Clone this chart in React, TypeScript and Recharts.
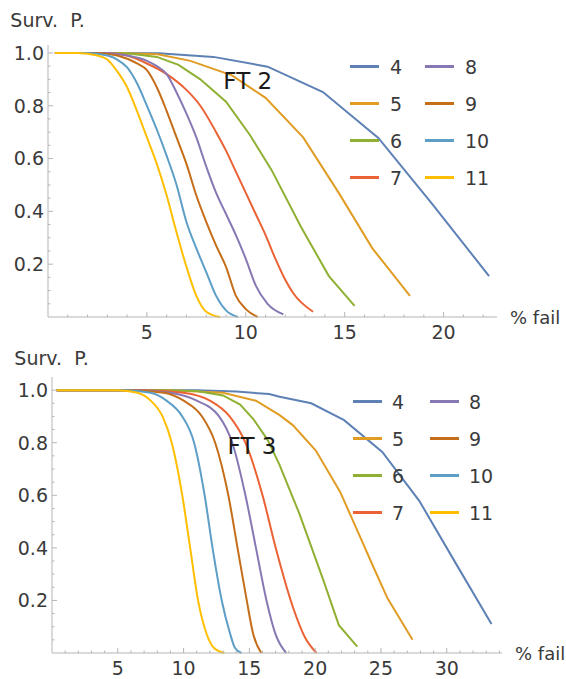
import { Legend, Line, LineChart, ReferenceDot, XAxis, YAxis } from "recharts";

type Pt = [number, number];

// series: number of nodes
const seriesNames = ["4", "5", "6", "7", "8", "9", "10", "11"];
const seriesColors = ["#5e81b5", "#e19c24", "#8fb032", "#eb6235", "#8778b3", "#c56e1a", "#5d9ec7", "#ffbf00"];
const seriesCurve = ["linear", "linear", "linear", "monotone", "monotone", "monotone", "monotone", "monotone"];

// FT 2: [% fail, survival probability]
const ft2n4: Pt[] = [[0.35, 1], [2.8, 1], [5.6, 0.999], [8.36, 0.985], [11.1, 0.948], [13.9, 0.852], [16.7, 0.678], [19.4, 0.43], [22.3, 0.155]];
const ft2n5: Pt[] = [[0.35, 1], [3.7, 1], [5.55, 0.995], [7.2, 0.97], [9.3, 0.915], [11.0, 0.83], [12.9, 0.68], [14.7, 0.47], [16.4, 0.26], [18.3, 0.08]];
const ft2n6: Pt[] = [[0.35, 1], [3, 1], [4.2, 0.997], [5.5, 0.985], [6.6, 0.955], [7.7, 0.9], [9.0, 0.815], [10.2, 0.69], [11.3, 0.557], [12.8, 0.34], [14.2, 0.155], [15.5, 0.042]];
const ft2n7: Pt[] = [[0.35, 1], [3, 1], [4, 0.99], [5, 0.96], [6, 0.92], [7, 0.86], [7.7, 0.8], [8.5, 0.7], [9, 0.63], [9.5, 0.55], [10, 0.47], [10.5, 0.39], [11, 0.31], [11.5, 0.22], [12, 0.14], [12.4, 0.09], [13.4, 0.02]];
const ft2n8: Pt[] = [[0.35, 1], [3, 1], [4, 0.99], [5, 0.97], [5.5, 0.95], [6, 0.92], [6.5, 0.85], [7, 0.77], [7.5, 0.68], [8, 0.57], [8.5, 0.47], [9, 0.39], [9.5, 0.31], [10, 0.22], [10.5, 0.12], [11.1, 0.05], [11.9, 0.01]];
const ft2n9: Pt[] = [[0.35, 1], [2.5, 1], [3.5, 0.99], [4.5, 0.96], [5, 0.935], [5.5, 0.87], [6, 0.78], [6.5, 0.68], [7, 0.58], [7.5, 0.46], [8, 0.36], [8.5, 0.27], [9, 0.19], [9.5, 0.08], [10, 0.03], [10.6, 0]];
const ft2n10: Pt[] = [[0.35, 1], [2, 1], [3, 0.99], [3.5, 0.975], [4, 0.945], [4.5, 0.885], [5, 0.8], [5.5, 0.71], [6, 0.61], [6.5, 0.5], [7, 0.36], [7.5, 0.26], [8, 0.17], [8.5, 0.08], [9, 0.025], [9.6, 0]];
const ft2n11: Pt[] = [[0.35, 1], [1.5, 1], [2.5, 0.99], [3, 0.975], [3.5, 0.93], [4, 0.87], [4.5, 0.78], [5, 0.68], [5.5, 0.58], [6, 0.46], [6.5, 0.32], [7, 0.19], [7.5, 0.08], [8, 0.02], [8.7, 0]];

// FT 3
const ft3n4: Pt[] = [[0.35, 1], [11, 1], [14, 0.995], [16.5, 0.985], [17.3, 0.975], [19.7, 0.95], [22.2, 0.886], [25.1, 0.765], [27.9, 0.58], [30.7, 0.34], [33.4, 0.11]];
const ft3n5: Pt[] = [[0.35, 1], [9, 1], [13, 0.99], [15.5, 0.96], [17.3, 0.905], [18.3, 0.867], [20.05, 0.77], [21.9, 0.613], [23.3, 0.455], [24.4, 0.33], [25.5, 0.208], [27.4, 0.05]];
const ft3n6: Pt[] = [[0.35, 1], [8, 1], [11, 0.997], [13, 0.98], [14.3, 0.945], [15.3, 0.89], [16.4, 0.81], [17.3, 0.715], [18.8, 0.53], [20.6, 0.28], [21.8, 0.106], [23.2, 0.024]];
const ft3n7: Pt[] = [[0.35, 1], [7, 1], [10, 0.99], [12, 0.96], [13.5, 0.9], [14.7, 0.8], [16, 0.6], [17, 0.4], [18.3, 0.176], [19.2, 0.062], [20.1, 0]];
const ft3n8: Pt[] = [[0.35, 1], [6.5, 1], [9, 0.99], [11, 0.96], [12.7, 0.9], [13.7, 0.8], [14.7, 0.6], [15.5, 0.4], [16.3, 0.2], [17, 0.07], [17.8, 0]];
const ft3n9: Pt[] = [[0.35, 1], [6, 1], [8.5, 0.99], [10, 0.96], [11.4, 0.9], [12.4, 0.8], [13.4, 0.6], [14.1, 0.4], [14.8, 0.2], [15.3, 0.07], [15.9, 0]];
const ft3n10: Pt[] = [[0.35, 1], [5.5, 1], [7.5, 0.99], [8.7, 0.96], [9.9, 0.9], [10.8, 0.8], [11.6, 0.6], [12.2, 0.4], [12.9, 0.2], [13.5, 0.08], [13.9, 0.02], [14.4, 0]];
const ft3n11: Pt[] = [[0.35, 1], [5, 1], [6.5, 0.99], [7.5, 0.96], [8.4, 0.9], [9.1, 0.8], [9.9, 0.6], [10.5, 0.4], [11.1, 0.2], [11.7, 0.08], [12.3, 0.02], [13.1, 0]];

const ft2Series = [ft2n4, ft2n5, ft2n6, ft2n7, ft2n8, ft2n9, ft2n10, ft2n11];
const ft3Series = [ft3n4, ft3n5, ft3n6, ft3n7, ft3n8, ft3n9, ft3n10, ft3n11];

// tick labels
const ft2XLabels = [5, 10, 15, 20];
const ft3XLabels = [5, 10, 15, 20, 25, 30];
const yLabels = [0.2, 0.4, 0.6, 0.8, 1.0];

const ft2XTicks = Array.from({ length: 22 }, (_, i) => i + 1);
const ft3XTicks = Array.from({ length: 34 }, (_, i) => i + 1);
const yTicks = Array.from({ length: 20 }, (_, i) => Math.round((i + 1) * 5) / 100);

const AXIS = "#b5b5b5";
const TEXT = "#3a3a3a";
const FONT = "DejaVu Sans";

const toRows = (pts: Pt[]) => pts.map(([x, y]) => ({ x, y }));

function XTick(props: any) {
  const { x, y, payload, labels } = props;
  const major = labels.includes(payload.value);
  return (
    <g>
      <line x1={x} x2={x} y1={y} y2={y - (major ? 5 : 2.5)} stroke={AXIS} />
      {major && (
        <text x={x} y={y + 22} textAnchor="middle" fontSize={19} fill={TEXT}>
          {payload.value}
        </text>
      )}
    </g>
  );
}

function YTick(props: any) {
  const { x, y, payload } = props;
  const major = yLabels.some((v) => Math.abs(v - payload.value) < 1e-6);
  return (
    <g>
      <line x1={x} x2={x + (major ? 5 : 2.5)} y1={y} y2={y} stroke={AXIS} />
      {major && (
        <text x={x - 4} y={y} dy="0.36em" textAnchor="end" fontSize={19} fill={TEXT}>
          {payload.value.toFixed(1)}
        </text>
      )}
    </g>
  );
}

function LegendGrid(props: any) {
  const { payload, colWidth, gap } = props;
  const items = [...(payload || [])].sort((a: any, b: any) => seriesNames.indexOf(a.value) - seriesNames.indexOf(b.value));
  return (
    <div
      style={{
        display: "grid",
        gridTemplateRows: "repeat(4, 37px)",
        gridAutoFlow: "column",
        gridAutoColumns: `${colWidth}px`,
        fontFamily: FONT,
        fontSize: 19,
        color: TEXT,
      }}
    >
      {items.map((p: any) => (
        <div key={p.value} style={{ display: "flex", alignItems: "center" }}>
          <span style={{ width: 29, height: 2.5, background: p.color, marginRight: gap }} />
          <span>{p.value}</span>
        </div>
      ))}
    </div>
  );
}

function SurvChart(props: any) {
  const { series, width, height, margin, xMax, yMax, xTicks, xLabels, ft, ftAt, survOffset, failOffset, legendPos, colWidth, gap } = props;
  return (
    <LineChart width={width} height={height} margin={margin}>
      <XAxis
        type="number"
        dataKey="x"
        domain={[0, xMax]}
        ticks={xTicks}
        interval={0}
        height={1}
        tickSize={0}
        tickMargin={0}
        tickLine={false}
        axisLine={{ stroke: AXIS }}
        tick={(p: any) => <XTick {...p} labels={xLabels} />}
        label={{ value: "% fail", position: "right", offset: failOffset, fill: TEXT, fontSize: 18 }}
      />
      <YAxis
        type="number"
        dataKey="y"
        domain={[0, yMax]}
        ticks={yTicks}
        interval={0}
        width={1}
        tickSize={0}
        tickMargin={0}
        tickLine={false}
        axisLine={{ stroke: AXIS }}
        tick={(p: any) => <YTick {...p} />}
        label={{ value: "Surv.\u00a0\u00a0P.", position: "top", offset: survOffset, fill: TEXT, fontSize: 19 }}
      />
      {series.map((pts: Pt[], i: number) => (
        <Line
          key={seriesNames[i]}
          name={seriesNames[i]}
          data={toRows(pts)}
          dataKey="y"
          type={seriesCurve[i] as any}
          stroke={seriesColors[i]}
          strokeWidth={2}
          dot={false}
          isAnimationActive={false}
        />
      ))}
      <ReferenceDot
        x={ftAt[0]}
        y={ftAt[1]}
        r={1}
        fill="none"
        stroke="none"
        label={{ value: ft, position: "center", fontSize: 23, fill: "#1a1a1a" }}
      />
      <Legend
        layout="horizontal"
        verticalAlign="middle"
        align="center"
        wrapperStyle={{ left: legendPos[0], top: legendPos[1], width: "auto" }}
        content={(p: any) => <LegendGrid {...p} colWidth={colWidth} gap={gap} />}
      />
    </LineChart>
  );
}

export default function App() {
  return (
    <div style={{ position: "absolute", left: 0, top: 0, width: 566, height: 679, background: "#fff", fontFamily: FONT, overflow: "hidden" }}>
      <div style={{ position: "absolute", left: 0, top: 0 }}>
        <SurvChart
          series={ft2Series}
          width={566}
          height={348}
          margin={{ top: 45, right: 69, bottom: 30, left: 47 }}
          xMax={22.7}
          yMax={1.03}
          xTicks={ft2XTicks}
          xLabels={ft2XLabels}
          ft="FT 2"
          ftAt={[10.1, 0.894]}
          survOffset={18}
          failOffset={13}
          legendPos={[350, 48]}
          colWidth={75}
          gap={11}
        />
      </div>
      <div style={{ position: "absolute", left: 0, top: 340 }}>
        <SurvChart
          series={ft3Series}
          width={566}
          height={339}
          margin={{ top: 37, right: 64, bottom: 25, left: 51 }}
          xMax={34.2}
          yMax={1.05}
          xTicks={ft3XTicks}
          xLabels={ft3XLabels}
          ft="FT 3"
          ftAt={[15.2, 0.787]}
          survOffset={12}
          failOffset={13}
          legendPos={[353, 43]}
          colWidth={77}
          gap={10}
        />
      </div>
    </div>
  );
}
